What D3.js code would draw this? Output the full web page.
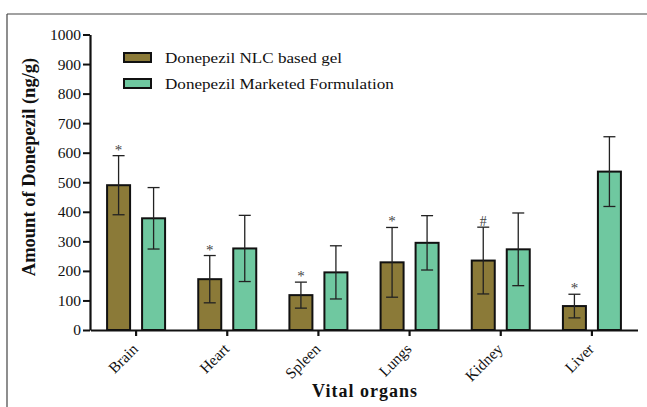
<!DOCTYPE html>
<html>
<head>
<meta charset="utf-8">
<script src="https://cdn.jsdelivr.net/npm/d3@7"></script>
<style>
  body { margin: 0; background: #fff; }
  svg, svg text { font-family: "Liberation Serif", "Times New Roman", serif; }
</style>
</head>
<body>
<main></main>
<script>
// data
const organs = ["Brain", "Heart", "Spleen", "Lungs", "Kidney", "Liver"];
const nlcGel = [490, 172, 118, 229, 235, 81];
const nlcGelErr = [100, 80, 44, 118, 113, 40];
const marketed = [378, 276, 195, 295, 273, 536];
const marketedErr = [104, 112, 90, 92, 123, 118];
const marks = ["*", "*", "*", "*", "#", "*"];
const yTicks = [0, 100, 200, 300, 400, 500, 600, 700, 800, 900, 1000];
const seriesNames = ["Donepezil NLC based gel", "Donepezil Marketed Formulation"];
const colors = ["#8b7a38", "#6fc8a0"];

const width = 647, height = 407;
const svg = d3.select("main")
  .append("svg")
  .attr("width", width)
  .attr("height", height);

// frame lines
svg.append("line").attr("x1", 7).attr("x2", width).attr("y1", 14).attr("y2", 14)
  .attr("stroke", "#444").attr("stroke-width", 1.2);
svg.append("line").attr("x1", 7).attr("x2", 7).attr("y1", 14).attr("y2", height)
  .attr("stroke", "#444").attr("stroke-width", 1.2);

const x = d3.scaleBand().domain(organs).range([90.5, 637.5]);
const y = d3.scaleLinear().domain([0, 1000]).range([330, 34.5]);

const barW = 23, gap = 12;
const xSub = d3.scaleOrdinal().domain([0, 1]).range([-gap / 2 - barW, gap / 2]);

const rows = organs.map((o, i) => ({
  organ: o,
  vals: [
    { s: 0, v: nlcGel[i], e: nlcGelErr[i] },
    { s: 1, v: marketed[i], e: marketedErr[i] }
  ],
  mark: marks[i]
}));

const groups = svg.selectAll(".grp")
  .data(rows)
  .enter()
  .append("g")
  .attr("class", "grp")
  .attr("transform", d => "translate(" + (x(d.organ) + x.bandwidth() / 2) + ",0)");

const bars = groups.selectAll(".bar")
  .data(d => d.vals)
  .enter()
  .append("g")
  .attr("class", "bar");

bars.append("rect")
  .attr("x", d => xSub(d.s))
  .attr("y", d => y(d.v))
  .attr("width", barW)
  .attr("height", d => y(0) - y(d.v))
  .attr("fill", d => colors[d.s])
  .attr("stroke", "#111")
  .attr("stroke-width", 2);

// error bars
bars.append("line")
  .attr("x1", d => xSub(d.s) + barW / 2)
  .attr("x2", d => xSub(d.s) + barW / 2)
  .attr("y1", d => y(d.v + d.e))
  .attr("y2", d => y(d.v - d.e))
  .attr("stroke", "#222")
  .attr("stroke-width", 1.3);

bars.selectAll(".cap")
  .data(d => [d.v + d.e, d.v - d.e].map(val => ({ s: d.s, val: val })))
  .enter()
  .append("line")
  .attr("x1", d => xSub(d.s) + barW / 2 - 6)
  .attr("x2", d => xSub(d.s) + barW / 2 + 6)
  .attr("y1", d => y(d.val))
  .attr("y2", d => y(d.val))
  .attr("stroke", "#222")
  .attr("stroke-width", 1.3);

// significance marks
groups.append("text")
  .attr("x", xSub(0) + barW / 2)
  .attr("y", d => y(d.vals[0].v + d.vals[0].e) - 1)
  .attr("text-anchor", "middle")
  .attr("font-size", d => d.mark === "#" ? "14px" : "15px")
  .attr("fill", "#444")
  .text(d => d.mark);

// y axis
const yAxis = svg.append("g")
  .attr("transform", "translate(90,0)")
  .call(d3.axisLeft(y).tickValues(yTicks).tickFormat(d3.format("d"))
    .tickSize(7).tickPadding(2).tickSizeOuter(0));
yAxis.attr("font-family", null);
yAxis.select(".domain").attr("stroke", "#111").attr("stroke-width", 2.2);
yAxis.selectAll(".tick line").attr("stroke", "#111").attr("stroke-width", 2);
yAxis.selectAll(".tick text")
  .style("font-family", "'Liberation Serif', serif")
  .attr("font-size", "15.5px")
  .attr("fill", "#111");

// x axis
const xAxis = svg.append("g")
  .attr("transform", "translate(0,330)")
  .call(d3.axisBottom(x).tickSize(6).tickSizeOuter(0));
xAxis.attr("font-family", null);
xAxis.select(".domain").attr("stroke", "#111").attr("stroke-width", 2.2);
xAxis.selectAll(".tick line").attr("stroke", "#111").attr("stroke-width", 2.2);
xAxis.selectAll(".tick text")
  .style("font-family", "'Liberation Serif', serif")
  .attr("font-size", "15.5px")
  .attr("fill", "#111")
  .attr("text-anchor", "end")
  .attr("dy", "0")
  .attr("y", 0)
  .attr("transform", "translate(3,20) rotate(-45)");

// axis titles
svg.append("text")
  .attr("transform", "translate(35,167) rotate(-90)")
  .attr("text-anchor", "middle")
  .attr("font-size", "18.5px")
  .attr("font-weight", "bold")
  .attr("fill", "#111")
  .text("Amount of Donepezil (ng/g)");

svg.append("text")
  .attr("x", 365)
  .attr("y", 397)
  .attr("text-anchor", "middle")
  .attr("font-size", "18px")
  .attr("font-weight", "bold")
  .attr("letter-spacing", "1px")
  .attr("fill", "#111")
  .text("Vital organs");

// legend
const legend = svg.append("g").attr("id", "legend");
const items = legend.selectAll(".legend-item")
  .data(seriesNames)
  .enter()
  .append("g")
  .attr("class", "legend-item")
  .attr("transform", (d, i) => "translate(124," + (53 + i * 26) + ")");
items.append("rect")
  .attr("width", 27)
  .attr("height", 9)
  .attr("fill", (d, i) => colors[i])
  .attr("stroke", "#111")
  .attr("stroke-width", 2);
items.append("text")
  .attr("transform", "translate(41,10) scale(1.14,1)")
  .attr("font-size", "15px")
  .attr("fill", "#111")
  .text(d => d);
</script>
</body>
</html>
